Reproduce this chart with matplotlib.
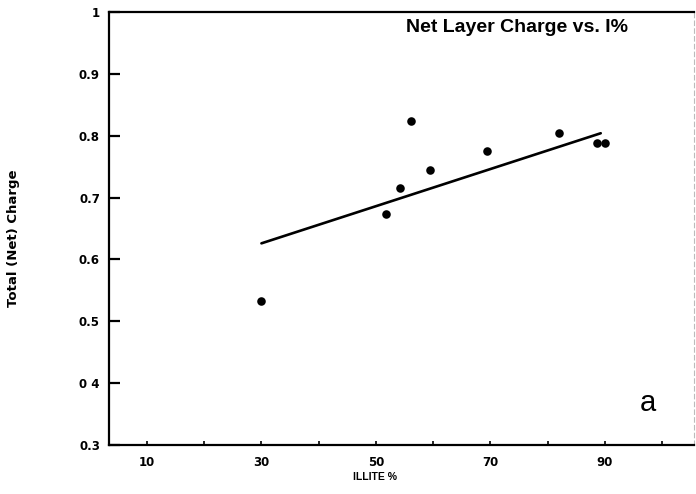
import matplotlib
matplotlib.use("Agg")
import matplotlib.pyplot as plt
from matplotlib.ticker import FixedLocator, FuncFormatter

# Illite percentage and total (net) layer charge of each sample
illite_pct = [30.0, 51.8, 54.3, 56.1, 59.5, 69.4, 82.0, 88.7, 90.1]
net_charge = [0.532, 0.674, 0.715, 0.823, 0.744, 0.775, 0.804, 0.788, 0.788]

# Regression line end points
fit_x = [30.0, 89.3]
fit_y = [0.626, 0.804]

x_ticks = [10, 20, 30, 40, 50, 60, 70, 80, 90, 100]
x_labelled = [10, 30, 50, 70, 90]
y_ticks = [0.3, 0.4, 0.5, 0.6, 0.7, 0.8, 0.9, 1.0]
y_labels = ["0.3", "0 4", "0.5", "0.6", "0.7", "0.8", "0.9", "1"]

plt.rcParams["font.family"] = ["Liberation Sans", "DejaVu Sans"]

fig = plt.figure(figsize=(6.96, 4.94), dpi=100)
ax = fig.add_axes([109 / 696, 1 - 445 / 494, (694 - 109) / 696, (445 - 12) / 494])

ax.plot(fit_x, fit_y, color="black", lw=1.9, solid_capstyle="round")
ax.scatter(illite_pct, net_charge, s=38, color="black", zorder=3, linewidths=0)

ax.set_xlim(3.36, 105.6)
ax.set_ylim(0.3, 1.0)

for side in ("left", "bottom", "top"):
    ax.spines[side].set_linewidth(1.6)
ax.spines["right"].set_linewidth(0.8)
ax.spines["right"].set_color("#bbbbbb")
ax.spines["right"].set_linestyle((0, (4, 3)))

ax.xaxis.set_major_locator(FixedLocator(x_ticks))
ax.xaxis.set_major_formatter(FuncFormatter(lambda v, p: f"{int(round(v))}" if int(round(v)) in x_labelled else ""))
ax.yaxis.set_major_locator(FixedLocator(y_ticks))
ax.set_yticklabels(y_labels)

ax.tick_params(axis="x", direction="in", length=3, width=1.2, labelsize=8.5, pad=8)
ax.tick_params(axis="y", direction="in", length=8, width=1.6, labelsize=8.5, pad=6.5)
for lab in ax.get_xticklabels() + ax.get_yticklabels():
    lab.set_fontweight("bold")
    lab.set_family("DejaVu Sans")

fig.text(517 / 696, 1 - 27 / 494, "Net Layer Charge vs. I%", ha="center", va="center",
         fontsize=14, fontweight="bold")
fig.text(648 / 696, 1 - 403 / 494, "a", ha="center", va="center", fontsize=21)
fig.text(14 / 696, 1 - 238 / 494, "Total (Net) Charge", rotation=90, ha="center", va="center",
         fontsize=9.5, fontweight="bold", family="DejaVu Sans")
fig.text(375 / 696, 1 - 477 / 494, "ILLITE %", ha="center", va="center",
         fontsize=7.5, fontweight="bold")

fig.savefig("out.png", dpi=100)
